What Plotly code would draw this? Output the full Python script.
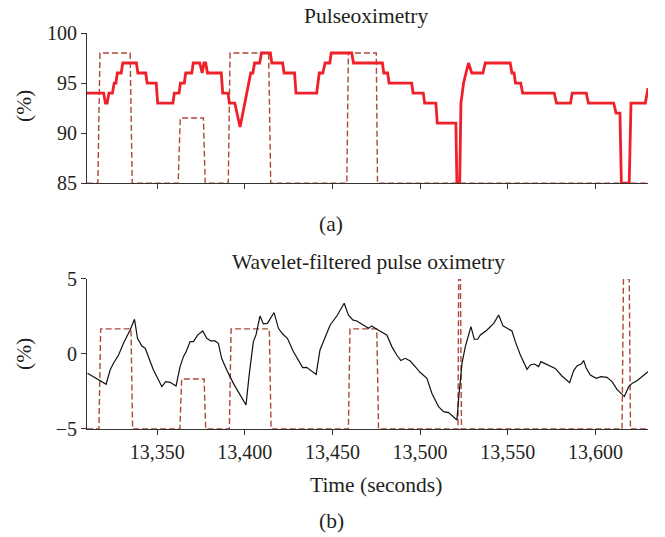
import plotly.graph_objects as go

# ---------------- data ----------------
# (a) pulse oximetry (SpO2, %)
spo2_t = [13310, 13319.5, 13320.5, 13321.5, 13322.5, 13324.5, 13325.5, 13326.5, 13327.3, 13329.5,
          13330.4, 13338.2, 13339.0, 13343.5, 13344.3, 13349.5, 13350.3, 13359.0, 13359.8, 13362.5,
          13363.3, 13365.5, 13366.3, 13369.8, 13370.6, 13374.3, 13375.7, 13376.7, 13377.7, 13378.7,
          13386.6, 13387.4, 13390.4, 13391.2, 13394.3, 13397.3, 13398.9, 13403.4, 13404.6, 13405.6,
          13408.5, 13409.5, 13414.6, 13415.4, 13421.6, 13422.4, 13428.4, 13429.2, 13441.0, 13442.5,
          13444.5, 13445.8, 13448.5, 13449.3, 13461.0, 13462.0, 13478.5, 13479.3, 13481.5, 13482.3,
          13495.2, 13496.0, 13501.8, 13502.6, 13509.0, 13509.8, 13520.4, 13521.0, 13522.6, 13523.3,
          13524.8, 13527.6, 13529.5, 13535.8, 13537.2, 13551.4, 13552.4, 13553.6, 13554.4, 13557.4,
          13558.5, 13576.5, 13577.8, 13585.8, 13586.8, 13594.8, 13596.0, 13610.4, 13611.8, 13614.0,
          13614.8, 13619.3, 13620.3, 13628.5, 13630.0]
spo2_v = [94, 94, 93, 93, 94, 94, 95, 95, 96, 96,
          97, 97, 96, 96, 95, 95, 93, 93, 94, 94,
          95, 95, 96, 96, 97, 97, 96, 97, 97, 96,
          96, 94, 94, 93, 93, 90.6, 92, 96, 96, 97,
          97, 98, 98, 97, 97, 96, 96, 94, 94, 96,
          96, 97, 97, 98, 98, 97, 97, 96, 96, 95,
          95, 94, 94, 93, 93, 91, 91, 85, 85, 93,
          95, 97, 96, 96, 97, 97, 96, 96, 95, 95,
          94, 94, 93, 93, 94, 94, 93, 93, 92, 92,
          85, 85, 93, 93, 94.5]

# (a) event markers (dashed)
evA_t = [13310, 13316.2, 13317.4, 13334.6, 13335.8, 13362.0, 13363.2, 13376.4, 13377.4, 13390.6,
         13391.6, 13413.6, 13414.8, 13458.2, 13459.1, 13475.0, 13475.7, 13630]
evA_v = [85, 85, 98, 98, 85, 85, 91.5, 91.5, 85, 85,
         98, 98, 85, 85, 98, 98, 85, 85]

# (b) wavelet-filtered pulse oximetry (%)
wav_t = [13310.3, 13320.9, 13323.2, 13325.1, 13328.0, 13330.8, 13334.6, 13337.1, 13338.8, 13341.3,
         13343.2, 13345.1, 13347.9, 13350.8, 13352.7, 13354.9, 13357.4, 13360.8, 13363.1, 13365.0,
         13366.6, 13368.8, 13370.7, 13373.2, 13376.0, 13378.3, 13380.6, 13383.0, 13384.9, 13386.8,
         13389.7, 13393.5, 13397.3, 13400.7, 13402.6, 13404.9, 13406.4, 13408.7, 13410.6, 13412.9,
         13416.7, 13419.2, 13421.6, 13424.3, 13427.7, 13430.6, 13433.0, 13435.3, 13438.2, 13440.7,
         13442.9, 13445.2, 13448.7, 13452.5, 13456.7, 13459.1, 13461.6, 13463.9, 13467.7, 13470.6,
         13472.4, 13475.3, 13481.0, 13483.9, 13486.7, 13489.0, 13491.5, 13494.4, 13497.2, 13500.1,
         13503.9, 13506.7, 13510.5, 13513.4, 13516.3, 13519.1, 13521.0, 13522.0, 13523.9, 13525.8,
         13527.7, 13529.0, 13530.9, 13532.8, 13534.4, 13538.2, 13542.0, 13544.8, 13547.3, 13549.6,
         13552.4, 13554.3, 13557.2, 13561.0, 13562.9, 13565.2, 13567.6, 13568.9, 13573.3, 13577.1,
         13580.9, 13585.3, 13587.6, 13589.5, 13591.8, 13593.3, 13594.8, 13597.1, 13600.5, 13603.2,
         13606.6, 13609.5, 13612.3, 13616.5, 13619.0, 13620.9, 13623.7, 13630.0]
wav_v = [-1.29, -2.02, -1.07, -0.62, -0.07, 0.71, 1.60, 2.31, 1.04, 0.53,
         0.38, -0.18, -1.07, -1.73, -2.18, -1.84, -1.89, -2.13, -0.84, -0.18,
         0.16, 0.82, 0.82, 1.27, 1.53, 1.04, 0.87, 0.87, 0.71, -0.29,
         -1.07, -1.96, -2.73, -3.40, -1.29, 0.82, 1.27, 2.53, 2.00, 2.04,
         2.76, 1.71, 1.33, 1.04, 0.16, -0.40, -0.91, -0.89, -1.13, -1.36,
         0.27, 0.98, 1.93, 2.53, 3.38, 2.60, 2.27, 2.20, 1.93, 1.71,
         1.87, 1.64, 1.27, 0.49, -0.07, -0.44, -0.29, -0.47, -0.84, -1.24,
         -1.62, -2.62, -3.51, -3.84, -3.91, -4.18, -4.40, -2.96, -0.62, 0.49,
         1.38, 1.82, 0.98, 0.98, 1.27, 1.60, 2.04, 2.60, 1.87, 1.71,
         1.53, 0.82, -0.07, -1.02, -0.73, -0.67, -0.84, -0.51, -0.73, -0.96,
         -1.47, -1.91, -1.11, -0.80, -0.67, -0.44, -0.96, -1.40, -1.62, -1.51,
         -1.56, -1.84, -2.36, -2.84, -2.18, -1.96, -1.78, -1.18]

# (b) event markers (dashed)
evB_t = [13310, 13316.8, 13317.8, 13335.1, 13336.0, 13363.0, 13364.0, 13376.8, 13377.7, 13391.2,
         13392.2, 13414.0, 13415.0, 13459.1, 13460.0, 13475.3, 13476.3, 13521.6, 13522.0, 13523.0,
         13523.6, 13615.2, 13616.0, 13619.3, 13620.0, 13630]
evB_v = [-5, -5, 1.67, 1.67, -5, -5, -1.67, -1.67, -5, -5,
         1.67, 1.67, -5, -5, 1.67, 1.67, -5, -5, 5, 5,
         -5, -5, 5, 5, -5, -5]

x_ticks = [13350, 13400, 13450, 13500, 13550, 13600]
yA_ticks = [85, 90, 95, 100]
yB_ticks = [-5, 0, 5]

# ---------------- figure ----------------
FONT = "Liberation Serif"
TXT = "#231f20"
RED = "#f0202a"
BROWN = "#ac4a38"

fig = go.Figure()
fig.add_trace(go.Scatter(x=evA_t, y=evA_v, mode="lines", xaxis="x", yaxis="y",
                         line=dict(color=BROWN, width=1.4, dash="6px,3px"), showlegend=False))
fig.add_trace(go.Scatter(x=spo2_t, y=spo2_v, mode="lines", xaxis="x", yaxis="y",
                         line=dict(color=RED, width=2.8), showlegend=False))
fig.add_trace(go.Scatter(x=evB_t, y=evB_v, mode="lines", xaxis="x2", yaxis="y2",
                         line=dict(color=BROWN, width=1.4, dash="6px,3px"), showlegend=False))
fig.add_trace(go.Scatter(x=wav_t, y=wav_v, mode="lines", xaxis="x2", yaxis="y2",
                         line=dict(color="#111111", width=1.2), showlegend=False))

axis_common = dict(showgrid=False, zeroline=False, showline=True, linecolor="#333333", linewidth=1,
                   ticks="outside", ticklen=5, tickcolor="#333333", layer="below traces",
                   tickfont=dict(family=FONT, size=20, color=TXT))

fig.update_layout(
    width=665, height=537,
    margin=dict(l=87, r=17, t=33, b=108),
    paper_bgcolor="white", plot_bgcolor="white",
    xaxis=dict(axis_common, domain=[0, 1], range=[13310, 13630], tickvals=x_ticks,
               showticklabels=False, anchor="y"),
    yaxis=dict(axis_common, domain=[0.621, 1], range=[85, 100], tickvals=yA_ticks, anchor="x"),
    xaxis2=dict(axis_common, domain=[0, 1], range=[13310, 13630], tickvals=x_ticks,
                tickformat=",d", anchor="y2"),
    yaxis2=dict(axis_common, domain=[0, 0.379], range=[-5, 5], tickvals=yB_ticks, anchor="x2"),
)

def ann(text, x, y, size=21.5, angle=0):
    fig.add_annotation(text=text, x=x, y=y, xref="paper", yref="paper", showarrow=False,
                       xanchor="center", yanchor="middle", textangle=angle,
                       font=dict(family=FONT, size=size, color=TXT))

W, H = 561.0, 396.0
def px(x):
    return (x - 87) / W
def py(y):
    return (429 - y) / H

ann("Pulseoximetry", px(366), py(16))
ann("(a)", px(331), py(224))
ann("Wavelet-filtered pulse oximetry", px(368), py(262))
ann("Time (seconds)", px(376), py(485))
ann("(b)", px(331), py(521))
ann("(%)", px(24), py(106), angle=-90)
ann("(%)", px(24), py(354), angle=-90)

fig.write_html("out.html")
